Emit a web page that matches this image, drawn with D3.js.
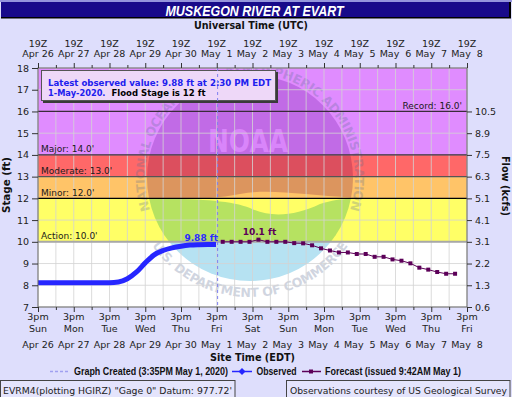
<!DOCTYPE html>
<html><head><meta charset="utf-8">
<script src="https://cdn.jsdelivr.net/npm/d3@7"></script>
<style>body{margin:0;background:#dedefc;} svg{display:block} text{white-space:pre}</style>
</head><body>
<svg id="c" width="512" height="397"></svg>
<script>
// ---------------- data ----------------
const chartTitle = "MUSKEGON RIVER AT EVART";
const obsTimes = ["2020-04-26T15:00","2020-04-26T21:00","2020-04-27T03:00","2020-04-27T09:00","2020-04-27T15:00","2020-04-27T21:00","2020-04-28T03:00","2020-04-28T09:00","2020-04-28T15:00","2020-04-28T21:00","2020-04-29T03:00","2020-04-29T09:00","2020-04-29T15:00","2020-04-29T21:00","2020-04-30T03:00","2020-04-30T09:00","2020-04-30T15:00","2020-04-30T21:00","2020-05-01T03:00","2020-05-01T09:00","2020-05-01T14:30"];
const obsStages = [8.12,8.12,8.12,8.12,8.12,8.12,8.12,8.12,8.12,8.15,8.3,8.6,9.03,9.4,9.6,9.72,9.8,9.85,9.87,9.88,9.88];
const fcTimes = ["2020-05-01T19:00","2020-05-02T01:00","2020-05-02T07:00","2020-05-02T13:00","2020-05-02T19:00","2020-05-03T01:00","2020-05-03T07:00","2020-05-03T13:00","2020-05-03T19:00","2020-05-04T01:00","2020-05-04T07:00","2020-05-04T13:00","2020-05-04T19:00","2020-05-05T01:00","2020-05-05T07:00","2020-05-05T13:00","2020-05-05T19:00","2020-05-06T01:00","2020-05-06T07:00","2020-05-06T13:00","2020-05-06T19:00","2020-05-07T01:00","2020-05-07T07:00","2020-05-07T13:00","2020-05-07T19:00","2020-05-08T01:00","2020-05-08T07:00"];
const fcStages = [10.0,10.0,10.0,10.0,10.1,10.0,10.0,10.0,9.94,9.93,9.84,9.7,9.6,9.51,9.51,9.44,9.44,9.31,9.31,9.19,9.13,9.01,8.81,8.72,8.61,8.53,8.53];
const tickTimes = ["2020-04-26T15:00","2020-04-27T15:00","2020-04-28T15:00","2020-04-29T15:00","2020-04-30T15:00","2020-05-01T15:00","2020-05-02T15:00","2020-05-03T15:00","2020-05-04T15:00","2020-05-05T15:00","2020-05-06T15:00","2020-05-07T15:00","2020-05-08T15:00"];
const topHourLabels = ["19Z","19Z","19Z","19Z","19Z","19Z","19Z","19Z","19Z","19Z","19Z","19Z","19Z"];
const dateLabels = ["Apr 26","Apr 27","Apr 28","Apr 29","Apr 30","May  1","May  2","May  3","May  4","May  5","May  6","May  7","May  8"];
const bottomHourLabels = ["3pm","3pm","3pm","3pm","3pm","3pm","3pm","3pm","3pm","3pm","3pm","3pm","3pm"];
const dayLabels = ["Sun","Mon","Tue","Wed","Thu","Fri","Sat","Sun","Mon","Tue","Wed","Thu","Fri"];
const stageTicks = [7,8,9,10,11,12,13,14,15,16,17,18];
const flowTickStages = [7,8,9,10,11,12,13,14,15,16];
const flowLabels = ["0.6","1.3","2.2","3.1","4.1","5.1","6.3","7.5","8.9","10.5"];
const catNames = ["Action","Minor","Moderate","Major","Record"];
const catStages = [10,12,13,14,16];
const latestValue = 9.88, peakValue = 10.1;
const graphCreated = "2020-05-01T15:35";

// ---------------- setup ----------------
const parse = d3.utcParse("%Y-%m-%dT%H:%M");
const svg = d3.select("#c");
const L = 38, R = 467, T = 68, B = 307;
const x = d3.scaleUtc().domain([parse(tickTimes[0]), parse(tickTimes[tickTimes.length-1])]).range([L, R]);
const y = d3.scaleLinear().domain([7, 18]).range([B, T]);
const FONT = "DejaVu Sans, Verdana, sans-serif";
const COND = "DejaVu Sans Condensed, Liberation Sans Narrow, sans-serif";
const NARROW = "Liberation Sans Narrow, Liberation Sans, Arial, sans-serif";

svg.append("rect").attr("width",512).attr("height",397).attr("fill","#dedefc");

// title bar
svg.append("rect").attr("x",0).attr("y",0).attr("width",512).attr("height",2).attr("fill","#9494dc");
svg.append("rect").attr("x",1).attr("y",17).attr("width",510).attr("height",1.5).attr("fill","#000");
svg.append("rect").attr("x",509).attr("y",2).attr("width",2).attr("height",16).attr("fill","#000");
svg.append("rect").attr("x",1).attr("y",2).attr("width",508).attr("height",15).attr("fill","#180a8a");
svg.append("text").attr("x",254.5).attr("y",15.5).attr("text-anchor","middle")
  .attr("font-family","Liberation Sans, Arial, sans-serif").attr("font-weight","bold").attr("font-style","italic")
  .attr("font-size",14.5).attr("fill","#fff").attr("textLength",178).attr("lengthAdjust","spacingAndGlyphs").text(chartTitle);

svg.append("text").attr("x",251).attr("y",29).attr("text-anchor","middle").attr("font-family",FONT)
  .attr("font-weight","bold").attr("font-size",10.5).attr("fill","#111").attr("textLength",114).attr("lengthAdjust","spacingAndGlyphs").text("Universal Time (UTC)");

// defs
const defs = svg.append("defs");
defs.append("clipPath").attr("id","plotclip").append("rect").attr("x",L).attr("y",T).attr("width",R-L).attr("height",B-T);

// bands
const bandDefs = [
  {lo:7, hi:10, color:"#ffffff"},
  {lo:10, hi:12, color:"#ffff66"},
  {lo:12, hi:13, color:"#ffc468"},
  {lo:13, hi:14, color:"#ff6868"},
  {lo:14, hi:18, color:"#e08cff"}
];
const plotG = svg.append("g").attr("clip-path","url(#plotclip)");
plotG.selectAll("rect.band").data(bandDefs).join("rect").attr("class","band")
  .attr("x",L).attr("width",R-L).attr("y",d=>y(d.hi)).attr("height",d=>y(d.lo)-y(d.hi)).attr("fill",d=>d.color);

// watermark (NOAA logo) - tints multiplied onto each band colour
const cx = 250, cy = 178;
function multiply(a, b){ const A=d3.rgb(a), Bc=d3.rgb(b); return d3.rgb(A.r*Bc.r/255, A.g*Bc.g/255, A.b*Bc.b/255).formatHex(); }
defs.append("clipPath").attr("id","innerclip").append("circle").attr("cx",cx).attr("cy",cy).attr("r",103);
defs.append("clipPath").attr("id","darkclip").append("path").attr("d",`M${cx-110},${cy-110} L${cx+110},${cy-110} L${cx+110},${cy+20} C${cx+60},${cy+18} ${cx+20},${cy+10} ${cx-10},${cy+16} C${cx-40},${cy+22} ${cx-80},${cy+22} ${cx-110},${cy+20} Z`);
defs.append("clipPath").attr("id","lightclip").append("path").attr("d",`M${cx-110},${cy+21} C${cx-60},${cy+20} ${cx-20},${cy+22} ${cx},${cy+30} C${cx+20},${cy+40} ${cx+45},${cy+38} ${cx+70},${cy+26} C${cx+85},${cy+21} ${cx+100},${cy+20} ${cx+110},${cy+21} L${cx+110},${cy+110} L${cx-110},${cy+110} Z`);
const inner = plotG.append("g").attr("clip-path","url(#innerclip)");
[["darkclip","#dcc2e6"],["lightclip","#b6e2f2"]].forEach(([clip,tint])=>{
  inner.append("g").attr("clip-path",`url(#${clip})`).selectAll("rect").data(bandDefs).join("rect")
    .attr("x",L).attr("width",R-L).attr("y",d=>y(d.hi)).attr("height",d=>y(d.lo)-y(d.hi)).attr("fill",d=>multiply(d.color,tint));
});
plotG.append("text").attr("x",cx-2).attr("y",cy-26).attr("text-anchor","middle").attr("font-family",FONT).attr("font-weight","bold")
  .attr("font-size",32).attr("textLength",80).attr("lengthAdjust","spacingAndGlyphs").attr("fill","#e08cff").attr("opacity",0.8).text("NOAA");
function arcPath(r, a0, a1, sweep, large){
  const p = a => [cx + r*Math.cos(a*Math.PI/180), cy + r*Math.sin(a*Math.PI/180)];
  const s = p(a0), e = p(a1);
  return `M${s[0]},${s[1]} A${r},${r} 0 ${large} ${sweep} ${e[0]},${e[1]}`;
}
defs.append("path").attr("id","topArc").attr("d",arcPath(105,160,20,1,1));
defs.append("path").attr("id","botArc").attr("d",arcPath(119,148,32,0,0));
const ringStyle = s => s.attr("font-family",FONT).attr("font-weight","bold").attr("font-size",12.5).attr("fill","#5a6c94").attr("opacity",0.28);
plotG.append("text").call(ringStyle).append("textPath").attr("href","#topArc").attr("startOffset","50%").attr("text-anchor","middle")
  .attr("textLength",395).attr("lengthAdjust","spacing").text("NATIONAL OCEANIC AND ATMOSPHERIC ADMINISTRATION");
plotG.append("text").call(ringStyle).append("textPath").attr("href","#botArc").attr("startOffset","50%").attr("text-anchor","middle")
  .attr("textLength",230).attr("lengthAdjust","spacing").text("U.S. DEPARTMENT OF COMMERCE");

// gridlines
const majorDates = tickTimes.map(parse);
const minorDates = majorDates.slice(0,-1).map(d=>d3.utcHour.offset(d,12));
const allV = majorDates.concat(minorDates);
const plot = svg.append("g");
plot.selectAll("line.vg").data(allV).join("line").attr("class","vg")
  .attr("x1",d=>x(d)).attr("x2",d=>x(d)).attr("y1",T).attr("y2",B).attr("stroke","#d4d4d4").attr("stroke-width",1).attr("opacity",0.8);
plot.selectAll("line.hg").data(stageTicks).join("line").attr("class","hg")
  .attr("x1",L).attr("x2",R).attr("y1",d=>y(d)).attr("y2",d=>y(d)).attr("stroke","#d4d4d4").attr("stroke-width",1).attr("opacity",0.8);

// category lines
const lineColors = {10:"#a8a8a8",12:"#000000",13:"#555555",14:"#3a2a3a",16:"#3a2a3a"};
plot.append("g").selectAll("line").data(catStages).join("line")
  .attr("x1",L).attr("x2",R).attr("y1",d=>y(d)).attr("y2",d=>y(d))
  .attr("stroke",d=>lineColors[d]).attr("stroke-width",d=>d===10?2:1.2);
// category labels
const catLabelG = svg.append("g").attr("font-family",FONT).attr("font-size",9).attr("fill","#1a1a1a");
catNames.forEach((n,i)=>{
  const s = catStages[i];
  const t = catLabelG.append("text").attr("y",y(s)-2.5).text(`${n}: ${s.toFixed(1)}'`);
  if(n==="Record") t.attr("x",462).attr("text-anchor","end"); else t.attr("x",41);
});

// info box
svg.append("rect").attr("x",43).attr("y",72).attr("width",235).attr("height",31).attr("fill","#3a3a3a");
svg.append("rect").attr("x",41.5).attr("y",70.5).attr("width",234).attr("height",30).attr("fill","#eed8f8").attr("stroke","#555").attr("stroke-width",1);
svg.append("text").attr("x",48).attr("y",86).attr("font-family",FONT).attr("font-weight","bold").attr("font-size",9.5).attr("fill","#2020ee")
  .attr("textLength",223).attr("lengthAdjust","spacingAndGlyphs").text(`Latest observed value: ${latestValue} ft at 2:30 PM EDT`);
svg.append("text").attr("x",48).attr("y",96).attr("font-family",FONT).attr("font-weight","bold").attr("font-size",9.5).attr("fill","#2020ee")
  .attr("textLength",57.5).attr("lengthAdjust","spacingAndGlyphs").text("1-May-2020.");
svg.append("text").attr("x",111.5).attr("y",96).attr("font-family",FONT).attr("font-weight","bold").attr("font-size",9.5).attr("fill","#000")
  .attr("textLength",94).attr("lengthAdjust","spacingAndGlyphs").text("Flood Stage is 12 ft");

// graph created line
const gc = parse(graphCreated);
svg.append("line").attr("x1",x(gc)).attr("x2",x(gc)).attr("y1",T).attr("y2",B).attr("stroke","#7f7ff0").attr("stroke-width",1).attr("stroke-dasharray","3,3");

// observed
const obs = obsTimes.map((t,i)=>({t:parse(t), v:obsStages[i]}));
svg.append("path").datum(obs).attr("fill","none").attr("stroke","#2626ff").attr("stroke-width",5).attr("stroke-linejoin","round")
  .attr("d",d3.line().x(d=>x(d.t)).y(d=>y(d.v)).curve(d3.curveMonotoneX));
// forecast
const fc = fcTimes.map((t,i)=>({t:parse(t), v:fcStages[i]}));
svg.append("path").datum(fc).attr("fill","none").attr("stroke","#5c0058").attr("stroke-width",1)
  .attr("d",d3.line().x(d=>x(d.t)).y(d=>y(d.v)));
svg.selectAll("rect.fc").data(fc).join("rect").attr("class","fc")
  .attr("x",d=>x(d.t)-2).attr("y",d=>y(d.v)-2).attr("width",4).attr("height",4).attr("fill","#5c0058");
// value labels
const last = obs[obs.length-1];
svg.append("text").attr("x",x(last.t)+2).attr("y",y(last.v)-3).attr("text-anchor","end").attr("font-family",FONT).attr("font-weight","bold")
  .attr("font-size",9).attr("fill","#2a2aff").text(`${latestValue} ft`);
const peak = fc[fcStages.indexOf(peakValue)];
svg.append("text").attr("x",x(peak.t)+1).attr("y",y(peak.v)-5).attr("text-anchor","middle").attr("font-family",FONT).attr("font-weight","bold")
  .attr("font-size",9).attr("fill","#5c0058").text(`${peakValue} ft`);

// frame
svg.append("rect").attr("x",L).attr("y",T).attr("width",R-L).attr("height",B-T).attr("fill","none").attr("stroke","#6a6a6a").attr("stroke-width",1);

// axes
function styleAxis(g){ g.select(".domain").remove(); g.selectAll("line").attr("stroke","#333"); g.selectAll("text").attr("font-family",FONT).attr("font-size",9.5).attr("fill","#222"); }
svg.append("g").attr("transform",`translate(${L},0)`).call(d3.axisLeft(y).tickValues(stageTicks).tickSize(6).tickPadding(3)).call(styleAxis);
svg.append("g").attr("transform",`translate(${R},0)`).call(d3.axisRight(y).tickValues(flowTickStages).tickFormat((d,i)=>flowLabels[i]).tickSize(5).tickPadding(3)).call(styleAxis);

const bAx = svg.append("g").attr("transform",`translate(0,${B})`).call(d3.axisBottom(x).tickValues(majorDates).tickSize(5).tickFormat(""));
styleAxis(bAx);
const bMin = svg.append("g").attr("transform",`translate(0,${B})`).call(d3.axisBottom(x).tickValues(minorDates).tickSize(3).tickFormat(""));
styleAxis(bMin);
const tAx = svg.append("g").attr("transform",`translate(0,${T})`).call(d3.axisTop(x).tickValues(majorDates).tickSize(5).tickFormat(""));
styleAxis(tAx);
const tMin = svg.append("g").attr("transform",`translate(0,${T})`).call(d3.axisTop(x).tickValues(minorDates).tickSize(3).tickFormat(""));
styleAxis(tMin);

const lab = svg.append("g").attr("font-family",FONT).attr("font-size",9.5).attr("fill","#222").attr("text-anchor","middle");
majorDates.forEach((d,i)=>{
  const xx = x(d);
  lab.append("text").attr("x",xx).attr("y",46.5).text(topHourLabels[i]);
  lab.append("text").attr("x",xx).attr("y",57).text(dateLabels[i]);
  lab.append("text").attr("x",xx).attr("y",320).text(bottomHourLabels[i]);
  lab.append("text").attr("x",xx).attr("y",332).text(dayLabels[i]);
  lab.append("text").attr("x",xx).attr("y",347.5).text(dateLabels[i]);
});

// axis titles
svg.append("text").attr("transform","translate(10,185) rotate(-90)").attr("text-anchor","middle").attr("font-family",FONT)
  .attr("font-weight","bold").attr("font-size",10.5).attr("fill","#111").attr("textLength",56).attr("lengthAdjust","spacingAndGlyphs").text("Stage (ft)");
svg.append("text").attr("transform","translate(502,186) rotate(90)").attr("text-anchor","middle").attr("font-family",FONT)
  .attr("font-weight","bold").attr("font-size",10.5).attr("fill","#111").attr("textLength",60).attr("lengthAdjust","spacingAndGlyphs").text("Flow (kcfs)");
svg.append("text").attr("x",252.5).attr("y",360.5).attr("text-anchor","middle").attr("font-family",FONT)
  .attr("font-weight","bold").attr("font-size",10.5).attr("fill","#111").attr("textLength",85).attr("lengthAdjust","spacingAndGlyphs").text("Site Time (EDT)");

// legend
const lg = svg.append("g");
lg.append("line").attr("x1",50).attr("x2",69).attr("y1",371.5).attr("y2",371.5).attr("stroke","#a0a0f0").attr("stroke-width",1.5).attr("stroke-dasharray","3,2");
lg.append("text").attr("x",74).attr("y",375).attr("font-family",NARROW).attr("font-weight","bold").attr("font-size",10).attr("fill","#111")
  .attr("textLength",154).attr("lengthAdjust","spacingAndGlyphs").text("Graph Created (3:35PM May 1, 2020)");
lg.append("line").attr("x1",232).attr("x2",252).attr("y1",371.5).attr("y2",371.5).attr("stroke","#2626ff").attr("stroke-width",1.5);
lg.append("path").attr("d","M242,368 L245.5,371.5 L242,375 L238.5,371.5 Z").attr("fill","#2626ff");
lg.append("text").attr("x",256.5).attr("y",375).attr("font-family",NARROW).attr("font-weight","bold").attr("font-size",10).attr("fill","#111")
  .attr("textLength",40).attr("lengthAdjust","spacingAndGlyphs").text("Observed");
lg.append("line").attr("x1",302).attr("x2",321).attr("y1",371.5).attr("y2",371.5).attr("stroke","#5c0058").attr("stroke-width",1.5);
lg.append("rect").attr("x",309).attr("y",369.5).attr("width",4).attr("height",4).attr("fill","#5c0058");
lg.append("text").attr("x",325).attr("y",375).attr("font-family",NARROW).attr("font-weight","bold").attr("font-size",10).attr("fill","#111")
  .attr("textLength",136).attr("lengthAdjust","spacingAndGlyphs").text("Forecast (issued 9:42AM May 1)");

// footer boxes
svg.append("rect").attr("x",0.5).attr("y",380.5).attr("width",234.5).attr("height",20).attr("fill","#e4e4fc").attr("stroke","#444");
svg.append("text").attr("x",3).attr("y",394).attr("font-family",COND).attr("font-size",9.5).attr("fill","#222")
  .attr("textLength",229).attr("lengthAdjust","spacingAndGlyphs").text(`EVRM4(plotting HGIRZ) "Gage 0" Datum: 977.72'`);
svg.append("rect").attr("x",286.5).attr("y",380.5).attr("width",223.5).attr("height",20).attr("fill","#e4e4fc").attr("stroke","#444");
svg.append("text").attr("x",290).attr("y",393.5).attr("font-family",COND).attr("font-size",9).attr("fill","#222")
  .attr("textLength",217).attr("lengthAdjust","spacingAndGlyphs").text("Observations courtesy of US Geological Survey");
</script>
</body></html>
